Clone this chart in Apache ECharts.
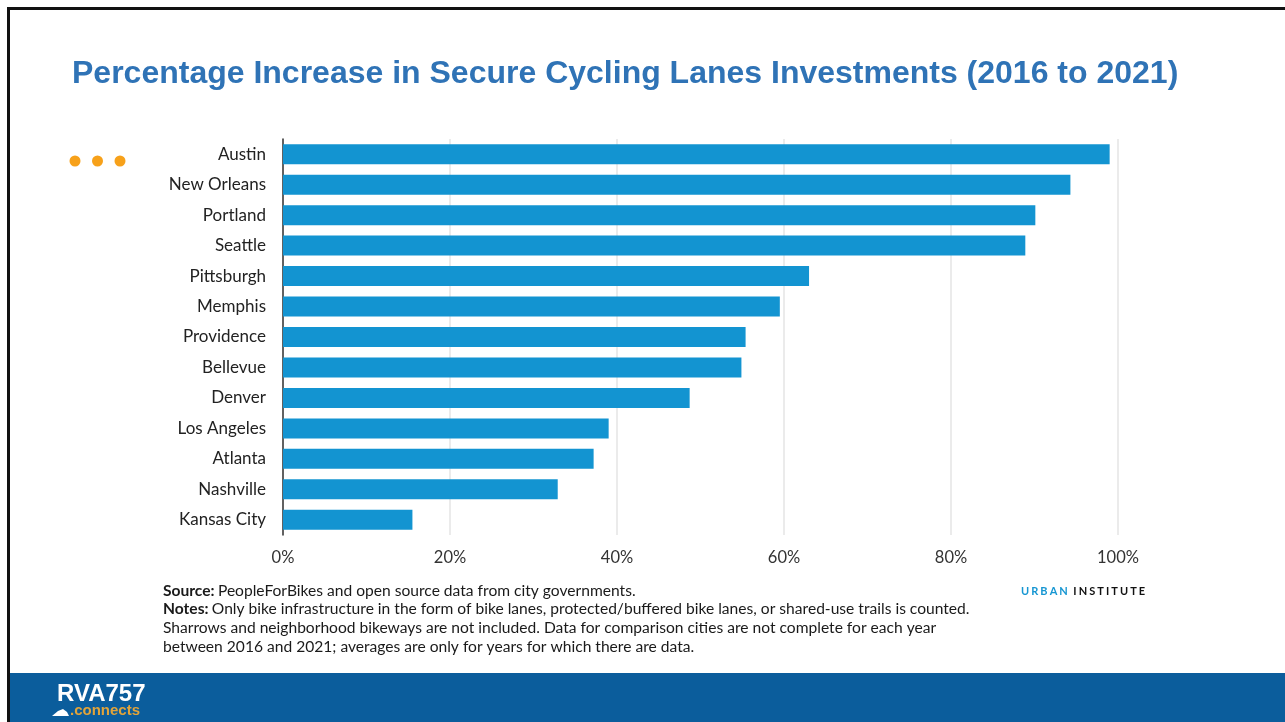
<!DOCTYPE html>
<html>
<head>
<meta charset="utf-8">
<script src="https://cdn.jsdelivr.net/npm/echarts@6/dist/echarts.min.js"></script>
<style>
html,body{margin:0;padding:0;background:#fff;}
#chart{width:1285px;height:722px;}
</style>
</head>
<body>
<div id="chart"></div>
<script>
const titleText = 'Percentage Increase in Secure Cycling Lanes Investments (2016 to 2021)';
const cities = ['Austin','New Orleans','Portland','Seattle','Pittsburgh','Memphis','Providence','Bellevue','Denver','Los Angeles','Atlanta','Nashville','Kansas City'];
const values = [99.0, 94.3, 90.1, 88.9, 63.0, 59.5, 55.4, 54.9, 48.7, 39.0, 37.2, 32.9, 15.5];
const xTicks = [0, 20, 40, 60, 80, 100];
const sourceText = 'PeopleForBikes and open source data from city governments.';
const notesLines = [
  'Only bike infrastructure in the form of bike lanes, protected/buffered bike lanes, or shared-use trails is counted.',
  'Sharrows and neighborhood bikeways are not included. Data for comparison cities are not complete for each year',
  'between 2016 and 2021; averages are only for years for which there are data.'
];

const chart = echarts.init(document.getElementById('chart'), null, {renderer:'canvas'});
const noteFont = 'Lato';
const nfs = 15.6;
const spaced = s => s.split('').join('\u2009\u200A');

chart.setOption({
  animation: false,
  backgroundColor: '#ffffff',
  grid: {left: 283, right: 167, top: 139, bottom: 187, containLabel: false},
  xAxis: {
    type: 'value', min: xTicks[0], max: xTicks[xTicks.length-1], interval: 20,
    axisLine: {show: false}, axisTick: {show: false},
    splitLine: {show: true, lineStyle: {color: '#e4e4e4', width: 1.5}},
    axisLabel: {formatter: '{value}%', color: '#333', fontFamily: 'Lato', fontSize: 16.5, margin: 14}
  },
  yAxis: {
    type: 'category', data: cities, inverse: true,
    axisLine: {show: true, lineStyle: {color: '#333', width: 1.5}},
    axisTick: {show: false},
    axisLabel: {color: '#222', fontFamily: 'Lato', fontSize: 17, margin: 17}
  },
  series: [{
    type: 'bar', data: values, barWidth: 20,
    itemStyle: {color: '#1394d1'},
    z: 3
  }],
  graphic: [
    // slide border
    {type:'rect', shape:{x:7, y:7, width:1278, height:3}, style:{fill:'#111'}, z:100},
    {type:'rect', shape:{x:7, y:7, width:3, height:715}, style:{fill:'#111'}, z:100},
    // footer
    {type:'rect', shape:{x:10, y:673, width:1275, height:49}, style:{fill:'#0b5d9c'}, z:50},
    {type:'text', x:57, y:694, style:{text:'RVA757', fill:'#ffffff', font:'bold 24px "Liberation Sans Narrow", "Liberation Sans", Arial', verticalAlign:'middle'}, z:60},
    {type:'text', x:70, y:711, style:{text:'.connects', fill:'#e2a43a', font:'bold 15px "Liberation Sans", Arial', verticalAlign:'middle'}, z:60},
    {type:'polygon', shape:{points:[[52,716],[58,711],[63,709],[67,712],[69,716]]}, style:{fill:'#ffffff'}, z:60},
    // title
    {type:'text', left:72, top:58, style:{text:titleText, fill:'#2f73b6', font:'bold 32px "Liberation Sans", Arial'}, z:60},
    // orange dots
    {type:'circle', shape:{cx:75, cy:161, r:5.5}, style:{fill:'#f7a11a'}},
    {type:'circle', shape:{cx:97.5, cy:161, r:5.5}, style:{fill:'#f7a11a'}},
    {type:'circle', shape:{cx:120, cy:161, r:5.5}, style:{fill:'#f7a11a'}},
    // source & notes
    {type:'text', x:163, y:591, style:{verticalAlign:'middle', rich:{b:{fontWeight:'bold', fontFamily:noteFont, fontSize:nfs, fill:'#1a1a1a'}, n:{fontFamily:noteFont, fontSize:nfs, fill:'#1a1a1a'}}, text:'{b|Source:} {n|'+sourceText+'}'}},
    {type:'text', x:163, y:609, style:{verticalAlign:'middle', rich:{b:{fontWeight:'bold', fontFamily:noteFont, fontSize:nfs, fill:'#1a1a1a'}, n:{fontFamily:noteFont, fontSize:nfs, fill:'#1a1a1a'}}, text:'{b|Notes:} {n|'+notesLines[0]+'}'}},
    {type:'text', x:163, y:628, style:{verticalAlign:'middle', text:notesLines[1], font:nfs+'px Lato', fill:'#1a1a1a'}},
    {type:'text', x:163, y:647, style:{verticalAlign:'middle', text:notesLines[2], font:nfs+'px Lato', fill:'#1a1a1a'}},
    // urban institute
    {type:'text', x:1021, y:591, style:{verticalAlign:'middle', rich:{u:{fontWeight:'bold', fontFamily:'Lato', fontSize:11, fill:'#1696d2'}, i:{fontWeight:'bold', fontFamily:'Lato', fontSize:11, fill:'#111'}}, text:'{u|'+spaced('URBAN')+'\u2002}{i|'+spaced('INSTITUTE')+'}'}}
  ]
});
</script>
</body>
</html>
